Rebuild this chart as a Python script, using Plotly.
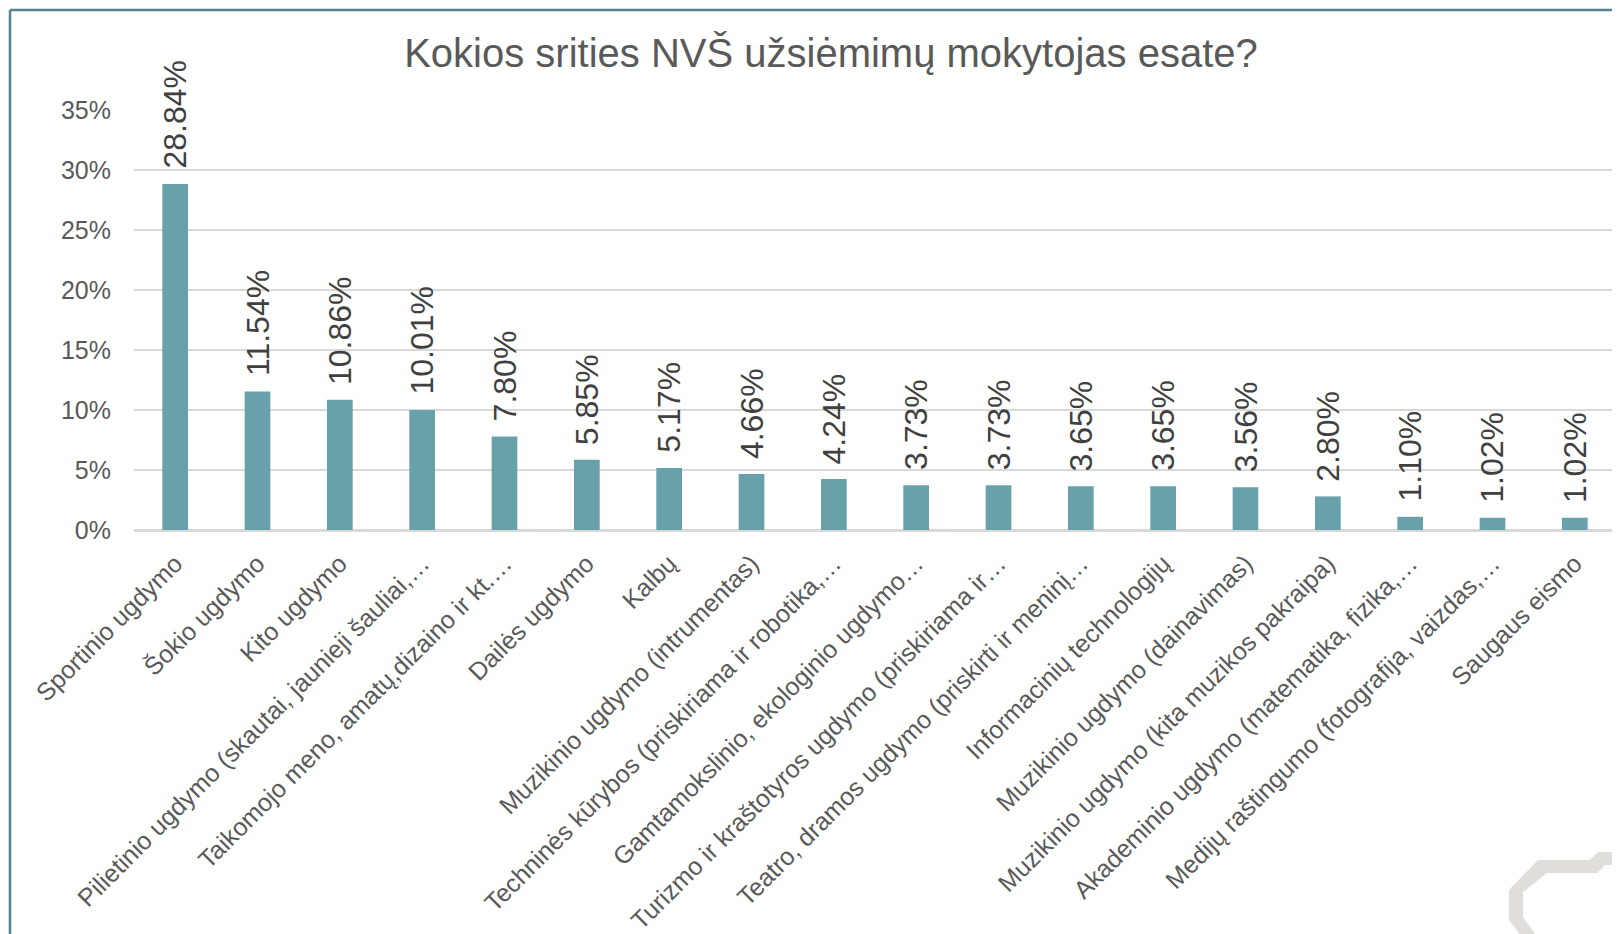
import plotly.graph_objects as go

categories = [
    "Sportinio ugdymo",
    "Šokio ugdymo",
    "Kito ugdymo",
    "Pilietinio ugdymo (skautai, jaunieji šauliai,…",
    "Taikomojo meno, amatų,dizaino ir kt.…",
    "Dailės ugdymo",
    "Kalbų",
    "Muzikinio ugdymo (intrumentas)",
    "Techninės kūrybos (priskiriama ir robotika,…",
    "Gamtamokslinio, ekologinio ugdymo…",
    "Turizmo ir kraštotyros ugdymo (priskiriama ir…",
    "Teatro, dramos ugdymo (priskirti ir meninį…",
    "Informacinių technologijų",
    "Muzikinio ugdymo (dainavimas)",
    "Muzikinio ugdymo (kita muzikos pakraipa)",
    "Akademinio ugdymo (matematika, fizika,…",
    "Medijų raštingumo (fotografija, vaizdas,…",
    "Saugaus eismo",
]
values = [28.84, 11.54, 10.86, 10.01, 7.80, 5.85, 5.17, 4.66, 4.24,
          3.73, 3.73, 3.65, 3.65, 3.56, 2.80, 1.10, 1.02, 1.02]
tick_vals = [0, 5, 10, 15, 20, 25, 30, 35]
tick_text = ["0%", "5%", "10%", "15%", "20%", "25%", "30%", "35%"]
title_text = "Kokios srities NVŠ užsiėmimų mokytojas esate?"

OFF = 8  # page body margin
W, H = 1620 - OFF, 934 - OFF
ML, MR, MT = 134 - OFF, 4, 110 - OFF
MB = H - (530 - OFF)
PW = W - ML - MR
PH = H - MT - MB

FONT = "Liberation Sans, Arial, sans-serif"
BAR = "#68A1AA"

fig = go.Figure()
fig.add_trace(go.Bar(
    x=categories, y=values,
    marker=dict(color=BAR, line=dict(width=0)),
    hoverinfo="skip",
))

for c, v in zip(categories, values):
    fig.add_annotation(
        x=c, y=v, xref="x", yref="y",
        text=f"{v:.2f}%", textangle=-90, showarrow=False,
        xanchor="center", yanchor="bottom", yshift=13,
        font=dict(family=FONT, size=32, color="#404040"),
    )


def px(x):
    # page pixel -> paper
    return (x - OFF - ML) / PW


def py(y):
    return (H - MB - (y - OFF)) / PH


# frame lines (top and left)
fig.add_shape(type="line", xref="paper", yref="paper",
              x0=px(10), y0=py(10), x1=px(1630), y1=py(10),
              line=dict(color="#4E8591", width=2.5))
fig.add_shape(type="line", xref="paper", yref="paper",
              x0=px(10), y0=py(10), x1=px(10), y1=py(950),
              line=dict(color="#4E8591", width=2.5))

# decorative ribbon bottom-right
pts = [(1509, 890), (1538, 860), (1590, 860), (1598, 852), (1630, 852),
       (1630, 865), (1605, 865), (1597, 873), (1547, 873), (1523, 892),
       (1523, 917), (1543, 945), (1528, 945), (1509, 920)]
path = "M " + " L ".join(f"{px(a):.5f},{py(b):.5f}" for a, b in pts) + " Z"
fig.add_shape(type="path", xref="paper", yref="paper", path=path,
              fillcolor="#E1DDDB", line=dict(width=0), layer="above")

fig.update_layout(
    width=W, height=H,
    margin=dict(l=ML, r=MR, t=MT, b=MB, pad=0, autoexpand=False),
    paper_bgcolor="white", plot_bgcolor="white",
    bargap=0.688,
    showlegend=False,
    title=dict(text=title_text, x=(831 - OFF) / W, xanchor="center",
               y=1 - (55 - OFF - 2) / H, yanchor="middle", yref="container",
               automargin=False,
               font=dict(family=FONT, size=40, color="#595959")),
    font=dict(family=FONT, color="#595959"),
    xaxis=dict(
        tickangle=-45, tickfont=dict(family=FONT, size=25, color="#595959"),
        showgrid=False, showline=True, linecolor="#D9D9D9", linewidth=2,
        ticks="", fixedrange=True, ticklabelstandoff=7, automargin=False,
    ),
    yaxis=dict(
        range=[0, 35], tickvals=tick_vals, ticktext=tick_text,
        tickfont=dict(family=FONT, size=25, color="#595959"),
        showgrid=True, gridcolor="#D9D9D9", gridwidth=1.5,
        zeroline=True, zerolinecolor="#D9D9D9", zerolinewidth=2,
        ticks="", ticklabelstandoff=22, showline=False, automargin=False,
    ),
)

fig.write_html("out.html")
